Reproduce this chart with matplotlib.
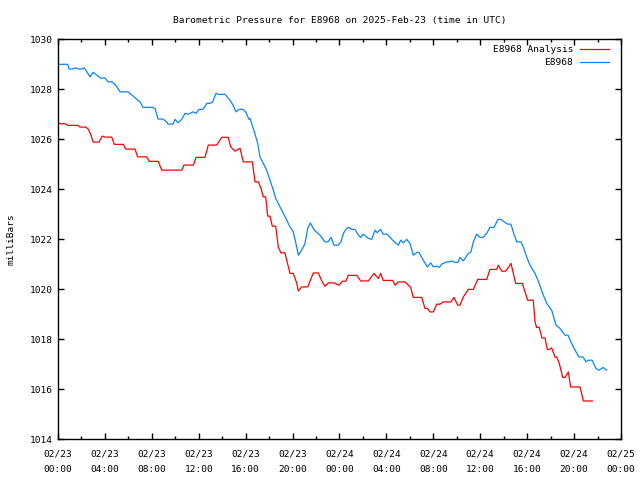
import numpy as np
import pandas as pd
import matplotlib
matplotlib.use("Agg")
import matplotlib.pyplot as plt
import matplotlib.dates as mdates
from matplotlib.ticker import MultipleLocator

# --- data: hours since 2025-02-23 00:00 UTC, pressure in mbar ---
obs_hours = [0.00, 0.83, 0.94, 1.19, 1.51, 1.73, 2.02, 2.24, 2.73, 3.01, 3.30, 3.67,
             4.01, 4.26, 4.60, 4.92, 5.29, 5.97, 6.48, 6.99, 7.25, 8.01, 8.27, 8.36,
             8.53, 8.95, 9.27, 9.38, 9.80, 9.98, 10.23, 10.55, 10.83, 11.08, 11.51,
             11.77, 12.02, 12.36, 12.70, 12.96, 13.19, 13.47, 13.64, 14.24, 14.66,
             14.92, 15.18, 15.43, 15.77, 16.00, 16.28, 16.37, 16.74, 17.03, 17.22,
             17.50, 17.79, 18.08, 18.36, 18.56, 18.93, 19.29, 19.78, 20.06, 20.35,
             20.49, 20.78, 21.06, 21.29, 21.51, 21.85, 22.34, 22.76, 23.02, 23.28,
             23.53, 23.87, 24.13, 24.33, 24.61, 24.75, 25.07, 25.32, 25.61, 25.81,
             26.03, 26.46, 26.75, 27.03, 27.22, 27.51, 27.71, 28.05, 28.31, 28.59,
             29.01, 29.22, 29.44, 29.73, 30.01, 30.29, 30.61, 30.78, 31.14, 31.49,
             31.78, 32.00, 32.29, 32.51, 32.71, 33.14, 33.42, 33.57, 33.85, 34.10,
             34.27, 34.56, 34.98, 35.21, 35.41, 35.70, 35.98, 36.23, 36.55, 36.83,
             37.17, 37.51, 37.77, 38.05, 38.34, 38.62, 38.85, 39.11, 39.47, 39.67,
             39.96, 40.24, 40.67, 41.03, 41.32, 41.67, 42.09, 42.46, 42.80, 43.23,
             43.48, 43.80, 44.08, 44.42, 44.76, 45.02, 45.19, 45.53, 45.87, 46.12,
             46.49, 46.78]
obs_mbar = [1029.00, 1029.00, 1028.81, 1028.81, 1028.86, 1028.81, 1028.81, 1028.86,
            1028.50, 1028.68, 1028.57, 1028.44, 1028.46, 1028.30, 1028.30, 1028.17,
            1027.90, 1027.90, 1027.70, 1027.50, 1027.28, 1027.28, 1027.24, 1027.10,
            1026.81, 1026.81, 1026.70, 1026.61, 1026.61, 1026.80, 1026.66, 1026.80,
            1027.04, 1027.00, 1027.10, 1027.04, 1027.20, 1027.20, 1027.44, 1027.44,
            1027.50, 1027.84, 1027.80, 1027.80, 1027.57, 1027.37, 1027.10, 1027.20,
            1027.20, 1027.10, 1026.80, 1026.84, 1026.30, 1025.84, 1025.30, 1025.04,
            1024.77, 1024.37, 1023.97, 1023.64, 1023.30, 1022.97, 1022.50, 1022.30,
            1021.70, 1021.37, 1021.57, 1021.84, 1022.44, 1022.66, 1022.37, 1022.17,
            1021.90, 1021.90, 1022.08, 1021.77, 1021.77, 1021.90, 1022.24, 1022.44,
            1022.48, 1022.40, 1022.40, 1022.17, 1022.08, 1022.21, 1022.04, 1022.00,
            1022.37, 1022.27, 1022.40, 1022.21, 1022.21, 1022.08, 1021.94, 1021.77,
            1021.97, 1021.86, 1022.00, 1021.84, 1021.37, 1021.48, 1021.48, 1021.17,
            1020.90, 1021.06, 1020.90, 1020.93, 1020.88, 1021.01, 1021.10, 1021.10,
            1021.14, 1021.08, 1021.08, 1021.28, 1021.14, 1021.44, 1021.50, 1021.90,
            1022.21, 1022.08, 1022.08, 1022.24, 1022.48, 1022.48, 1022.80, 1022.80,
            1022.70, 1022.61, 1022.61, 1022.24, 1021.90, 1021.90, 1021.70, 1021.30,
            1020.97, 1020.64, 1020.24, 1019.84, 1019.44, 1019.17, 1018.57, 1018.44,
            1018.17, 1018.17, 1017.84, 1017.57, 1017.30, 1017.30, 1017.10, 1017.17,
            1017.17, 1016.84, 1016.77, 1016.88, 1016.77]

ana_hours = [0.00, 0.17, 0.32, 0.51, 0.83, 1.68, 1.88, 2.36, 2.58, 2.81, 3.01, 3.50,
             3.78, 4.01, 4.58, 4.80, 5.57, 5.77, 6.56, 6.80, 7.56, 7.78, 8.55, 8.84,
             10.55, 10.74, 11.54, 11.77, 12.53, 12.81, 13.53, 13.96, 14.52, 14.72,
             15.09, 15.52, 15.80, 16.57, 16.80, 17.08, 17.31, 17.50, 17.71, 17.88,
             18.08, 18.27, 18.56, 18.78, 19.01, 19.35, 19.78, 20.06, 20.35, 20.49,
             20.78, 21.29, 21.77, 22.19, 22.53, 22.76, 23.05, 23.56, 23.96, 24.27,
             24.55, 24.75, 25.47, 25.81, 26.46, 26.94, 27.31, 27.51, 27.73, 28.54,
             28.73, 29.01, 29.58, 30.07, 30.29, 31.01, 31.29, 31.49, 31.72, 32.00,
             32.29, 32.57, 32.85, 33.51, 33.76, 34.08, 34.27, 34.56, 34.98, 35.41,
             35.78, 36.55, 36.83, 37.40, 37.54, 37.83, 38.17, 38.34, 38.62, 39.02,
             39.59, 39.82, 40.04, 40.52, 40.67, 40.81, 41.03, 41.26, 41.52, 41.72,
             41.89, 42.09, 42.37, 42.52, 42.74, 43.03, 43.23, 43.51, 43.71, 44.51,
             44.79, 45.58]
ana_mbar = [1026.64, 1026.64, 1026.61, 1026.64, 1026.56, 1026.56, 1026.49, 1026.49,
            1026.41, 1026.17, 1025.89, 1025.89, 1026.13, 1026.09, 1026.09, 1025.80,
            1025.80, 1025.61, 1025.61, 1025.30, 1025.30, 1025.12, 1025.12, 1024.77,
            1024.77, 1024.97, 1024.97, 1025.28, 1025.28, 1025.77, 1025.77, 1026.08,
            1026.08, 1025.70, 1025.53, 1025.64, 1025.10, 1025.10, 1024.30, 1024.30,
            1024.04, 1023.70, 1023.70, 1022.93, 1022.93, 1022.53, 1022.53, 1021.70,
            1021.46, 1021.46, 1020.64, 1020.64, 1020.26, 1019.94, 1020.10, 1020.10,
            1020.66, 1020.66, 1020.30, 1020.13, 1020.26, 1020.26, 1020.17, 1020.33,
            1020.33, 1020.56, 1020.56, 1020.34, 1020.34, 1020.64, 1020.44, 1020.64,
            1020.36, 1020.36, 1020.17, 1020.30, 1020.30, 1020.08, 1019.68, 1019.68,
            1019.24, 1019.24, 1019.10, 1019.10, 1019.41, 1019.41, 1019.50, 1019.50,
            1019.68, 1019.37, 1019.37, 1019.70, 1020.00, 1020.00, 1020.40, 1020.40,
            1020.80, 1020.80, 1020.97, 1020.73, 1020.73, 1020.84, 1021.04, 1020.24,
            1020.24, 1019.90, 1019.57, 1019.57, 1018.70, 1018.48, 1018.48, 1018.06,
            1018.06, 1017.60, 1017.60, 1017.66, 1017.30, 1017.30, 1017.04, 1016.48,
            1016.48, 1016.70, 1016.10, 1016.10, 1015.54, 1015.54]

start = pd.Timestamp("2025-02-23 00:00")
obs_t = start + pd.to_timedelta(obs_hours, unit="h")
ana_t = start + pd.to_timedelta(ana_hours, unit="h")

plt.rcParams['font.family'] = ['DejaVu Sans Mono']
fs = 6.8

fig = plt.figure(figsize=(6.4, 4.8), dpi=100)
ax = fig.add_axes([0.0906, 0.0844, 0.8797, 0.8337])

ax.plot(ana_t, ana_mbar, color='#ff0000', lw=0.9, label='E8968 Analysis')
ax.plot(obs_t, obs_mbar, color='#0a84ff', lw=0.9, label='E8968')

ax.set_xlim(start, start + pd.Timedelta(hours=48))
ax.set_ylim(1014, 1030)
ax.yaxis.set_major_locator(MultipleLocator(2))
ax.xaxis.set_major_locator(mdates.HourLocator(byhour=range(0, 24, 4)))
ax.xaxis.set_minor_locator(mdates.HourLocator(byhour=range(2, 24, 4)))
ax.xaxis.set_major_formatter(mdates.DateFormatter('%m/%d\n%H:%M'))

ax.tick_params(which='both', direction='in', top=True, right=True, width=1,
               labelsize=fs, color='black')
ax.tick_params(which='major', length=4, pad=4)
ax.tick_params(which='minor', length=2)
ax.tick_params(axis='x', which='major', pad=7)
for lab in ax.get_xticklabels():
    lab.set_linespacing(1.9)
for sp in ax.spines.values():
    sp.set_linewidth(1)

ax.set_ylabel('milliBars', fontsize=fs, labelpad=10)
ax.set_title('Barometric Pressure for E8968 on 2025-Feb-23 (time in UTC)',
             fontsize=fs, pad=12)

ax.legend(loc='upper right', frameon=False, markerfirst=False, fontsize=fs,
          handlelength=3.0, handletextpad=0.75, borderaxespad=0.6,
          borderpad=0.0, labelspacing=0.45, bbox_to_anchor=(0.988, 1.0))

fig.savefig('out.png', dpi=100)
